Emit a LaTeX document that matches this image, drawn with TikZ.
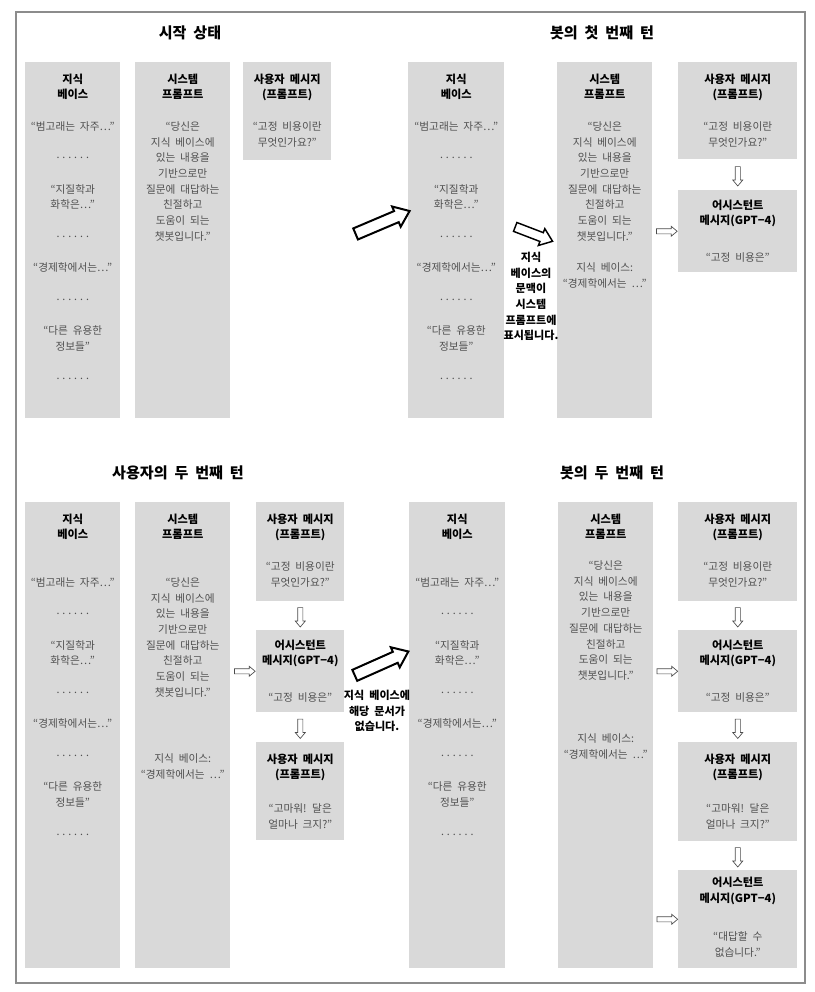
\documentclass[tikz,border=0pt]{standalone}
\usepackage{fontspec}
\setmainfont{Noto Sans CJK KR}[WordSpace=2]
\usetikzlibrary{shapes.arrows,calc}
\definecolor{panelgray}{HTML}{D9D9D9}
\definecolor{bodygray}{HTML}{505050}
\definecolor{framegray}{HTML}{8C8C8C}
\newcommand\kbdots{\raisebox{2.2pt}{.\kern2.2pt.\kern2.2pt.\kern2.2pt.\kern2.2pt.\kern2.2pt.}}
\newcommand\kbtext{“범고래는 자주…”\\[11.8pt]\kbdots\\[11.8pt]“지질학과\\화학은…”\\[11.8pt]\kbdots\\[11.8pt]“경제학에서는…”\\[11.8pt]\kbdots\\[11.8pt]“다른 유용한\\정보들”\\[11.8pt]\kbdots}
\newcommand\sptext{“당신은\\지식 베이스에\\있는 내용을\\기반으로만\\질문에 대답하는\\친절하고\\도움이 되는\\챗봇입니다.”}
\tikzset{
	panel/.style n args={2}{fill=panelgray, anchor=north west, inner sep=0pt, minimum width=#1*0.75pt, minimum height=#2*0.75pt},
	hdtext/.style={anchor=north, align=center, inner sep=0pt, font=\bfseries\fontsize{8.4pt}{11.8pt}\selectfont},
	bdtext/.style={anchor=north, align=center, inner sep=0pt, text=bodygray, font=\fontsize{8pt}{11.8pt}\selectfont},
	ttl/.style={inner sep=0pt, font=\bfseries\fontsize{11.3pt}{13pt}\selectfont},
	notetext/.style={align=center, inner sep=0pt, font=\bfseries\fontsize{8.3pt}{11.8pt}\selectfont},
	bigarrow/.style={single arrow, draw=black, fill=white, line width=1.5pt, inner sep=3.75pt, single arrow head extend=3.75pt, single arrow tip angle=75, minimum height=44pt},
	smallarrow/.style={single arrow, draw=black!70, fill=white, line width=0.5pt, inner sep=1.7pt, single arrow head extend=1.8pt, single arrow tip angle=80, minimum height=14.5pt},
}
\begin{document}
\begin{tikzpicture}[x=0.75pt, y=-0.75pt]
	\useasboundingbox (0,0) rectangle (814,992);
	\draw [framegray, line width=0.8pt] (16,12) rectangle (805,983);
	\node[ttl] (t1) at (190,33) {시작 상태};
	\node[ttl] (t2) at (602,33) {봇의 첫 번째 턴};
	\node[ttl] (t3) at (178,473) {사용자의 두 번째 턴};
	\node[ttl] (t4) at (612,473) {봇의 두 번째 턴};
	\node[panel={95}{356}] (kb1) at (25,62) {};
	\node[panel={95}{356}] (sp1) at (135,62) {};
	\node[panel={88}{98}] (um1) at (243,62) {};
	\node[panel={96}{356}] (kb2) at (408,62) {};
	\node[panel={95}{356}] (sp2) at (557,62) {};
	\node[panel={119}{97}] (um2) at (678,62) {};
	\node[panel={119}{82}] (am2) at (678,190) {};
	\node[panel={95}{466}] (kb3) at (25,502) {};
	\node[panel={95}{466}] (sp3) at (135,502) {};
	\node[panel={88}{99}] (um3a) at (256,502) {};
	\node[panel={88}{82}] (am3) at (256,630) {};
	\node[panel={88}{98}] (um3b) at (256,742) {};
	\node[panel={96}{466}] (kb4) at (409,502) {};
	\node[panel={95}{466}] (sp4) at (558,502) {};
	\node[panel={119}{99}] (um4a) at (678,502) {};
	\node[panel={119}{82}] (am4a) at (678,630) {};
	\node[panel={119}{99}] (um4b) at (678,742) {};
	\node[panel={119}{98}] (am4b) at (678,870) {};
	\node[hdtext] (kb1h) at ([yshift=-8.6pt]kb1.north) {지식\\베이스};
	\node[bdtext] (kb1b) at ([yshift=-44.4pt]kb1.north) {\kbtext};
	\node[hdtext] (sp1h) at ([yshift=-8.6pt]sp1.north) {시스템\\프롬프트};
	\node[bdtext] (sp1b) at ([yshift=-44.4pt]sp1.north) {\sptext};
	\node[hdtext] (um1h) at ([yshift=-8.6pt]um1.north) {사용자 메시지\\(프롬프트)};
	\node[bdtext] (um1b) at ([yshift=-44.8pt]um1.north) {“고정 비용이란\\무엇인가요?”};
	\node[hdtext] (kb2h) at ([yshift=-8.6pt]kb2.north) {지식\\베이스};
	\node[bdtext] (kb2b) at ([yshift=-44.4pt]kb2.north) {\kbtext};
	\node[hdtext] (sp2h) at ([yshift=-8.6pt]sp2.north) {시스템\\프롬프트};
	\node[bdtext] (sp2b) at ([yshift=-44.4pt]sp2.north) {\sptext\\[11.8pt]지식 베이스:\\“경제학에서는 …”};
	\node[hdtext] (um2h) at ([yshift=-8.6pt]um2.north) {사용자 메시지\\(프롬프트)};
	\node[bdtext] (um2b) at ([yshift=-44.8pt]um2.north) {“고정 비용이란\\무엇인가요?”};
	\node[hdtext] (am2h) at ([yshift=-7.1pt]am2.north) {어시스턴트\\메시지(GPT−4)};
	\node[bdtext] (am2b) at ([yshift=-46.7pt]am2.north) {“고정 비용은”};
	\node[hdtext] (kb3h) at ([yshift=-8.6pt]kb3.north) {지식\\베이스};
	\node[bdtext] (kb3b) at ([yshift=-56.4pt]kb3.north) {\kbtext};
	\node[hdtext] (sp3h) at ([yshift=-8.6pt]sp3.north) {시스템\\프롬프트};
	\node[bdtext] (sp3b) at ([yshift=-56.4pt]sp3.north) {\sptext\\[38pt]지식 베이스:\\“경제학에서는 …”};
	\node[hdtext] (um3ah) at ([yshift=-8.6pt]um3a.north) {사용자 메시지\\(프롬프트)};
	\node[bdtext] (um3ab) at ([yshift=-44.8pt]um3a.north) {“고정 비용이란\\무엇인가요?”};
	\node[hdtext] (am3h) at ([yshift=-7.1pt]am3.north) {어시스턴트\\메시지(GPT−4)};
	\node[bdtext] (am3b) at ([yshift=-46.7pt]am3.north) {“고정 비용은”};
	\node[hdtext] (um3bh) at ([yshift=-8.6pt]um3b.north) {사용자 메시지\\(프롬프트)};
	\node[bdtext] (um3bb) at ([yshift=-46.3pt]um3b.north) {“고마워! 달은\\얼마나 크지?”};
	\node[hdtext] (kb4h) at ([yshift=-8.6pt]kb4.north) {지식\\베이스};
	\node[bdtext] (kb4b) at ([yshift=-56.4pt]kb4.north) {\kbtext};
	\node[hdtext] (sp4h) at ([yshift=-8.6pt]sp4.north) {시스템\\프롬프트};
	\node[bdtext] (sp4b) at ([yshift=-43.7pt]sp4.north) {\sptext\\[35.4pt]지식 베이스:\\“경제학에서는 …”};
	\node[hdtext] (um4ah) at ([yshift=-8.6pt]um4a.north) {사용자 메시지\\(프롬프트)};
	\node[bdtext] (um4ab) at ([yshift=-44.8pt]um4a.north) {“고정 비용이란\\무엇인가요?”};
	\node[hdtext] (am4ah) at ([yshift=-7.1pt]am4a.north) {어시스턴트\\메시지(GPT−4)};
	\node[bdtext] (am4ab) at ([yshift=-46.7pt]am4a.north) {“고정 비용은”};
	\node[hdtext] (um4bh) at ([yshift=-8.6pt]um4b.north) {사용자 메시지\\(프롬프트)};
	\node[bdtext] (um4bb) at ([yshift=-46.3pt]um4b.north) {“고마워! 달은\\얼마나 크지?”};
	\node[hdtext] (am4bh) at ([yshift=-5.3pt]am4b.north) {어시스턴트\\메시지(GPT−4)};
	\node[bdtext] (am4bb) at ([yshift=-45.9pt]am4b.north) {“대답할 수\\없습니다.”};
	\node[notetext] (n1) at (531,296.5) {지식\\베이스의\\문맥이\\시스템\\프롬프트에\\표시됩니다.};
	\node[notetext] (n2) at (377,711) {지식 베이스에\\해당 문서가\\없습니다.};
	\node[bigarrow, rotate=23] (a1) at (379,224) {};
	\node[bigarrow, minimum height=30pt, inner sep=3pt, single arrow head extend=3.2pt, line width=1.1pt, rotate=-21] (a2) at (531,233) {};
	\node[bigarrow, rotate=24] (a3) at (378,665) {};
	\node[smallarrow, rotate=-90] (d1) at ($(um2.south)!0.5!(am2.north)$) {};
	\node[smallarrow, minimum height=15.5pt] (r1) at ($(sp2.east |- am2.west)!0.5!(am2.west)$) {};
	\node[smallarrow, rotate=-90] (d2) at ($(um3a.south)!0.5!(am3.north)$) {};
	\node[smallarrow, rotate=-90] (d3) at ($(am3.south)!0.5!(um3b.north)$) {};
	\node[smallarrow, minimum height=15.5pt] (r2) at ($(sp3.east |- am3.west)!0.5!(am3.west)$) {};
	\node[smallarrow, rotate=-90] (d4) at ($(um4a.south)!0.5!(am4a.north)$) {};
	\node[smallarrow, rotate=-90] (d5) at ($(am4a.south)!0.5!(um4b.north)$) {};
	\node[smallarrow, rotate=-90] (d6) at ($(um4b.south)!0.5!(am4b.north)$) {};
	\node[smallarrow, minimum height=15.5pt] (r3) at ($(sp4.east |- am4a.west)!0.5!(am4a.west)$) {};
	\node[smallarrow, minimum height=15.5pt] (r4) at ($(sp4.east |- am4b.west)!0.5!(am4b.west)$) {};
\end{tikzpicture}
\end{document}
